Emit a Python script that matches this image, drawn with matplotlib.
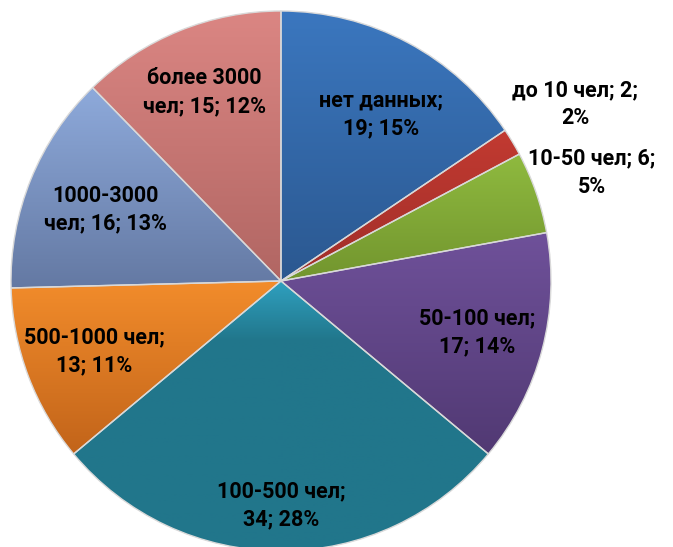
"""Pie chart of groups by headcount, Excel-style gradient slices."""

import numpy as np
import matplotlib
matplotlib.use("Agg")
import matplotlib.pyplot as plt
from matplotlib.colors import LinearSegmentedColormap

plt.rcParams['font.family'] = ['Roboto', 'DejaVu Sans']

# data
CATEGORIES = ["нет данных", "до 10 чел", "10-50 чел", "50-100 чел",
              "100-500 чел", "500-1000 чел", "1000-3000 чел", "более 3000 чел"]
COUNTS = [19, 2, 6, 17, 34, 13, 16, 15]
PERCENTS = [15, 2, 5, 14, 28, 11, 13, 12]
LABELS = ["нет данных;\n19; 15%", "до 10 чел; 2;\n2%", "10-50 чел; 6;\n5%",
          "50-100 чел;\n17; 14%", "100-500 чел;\n34; 28%", "500-1000 чел;\n13; 11%",
          "1000-3000\nчел; 16; 13%", "более 3000\nчел; 15; 12%"]

# top / bottom colour of each slice gradient
TOP_COLORS = ["#3b77bf", "#c23a31", "#8fba3f", "#6f519a", "#2fa0bf",
              "#f28c2b", "#8eaadb", "#db8683"]
BOTTOM_COLORS = ["#2b5890", "#a02e29", "#72952e", "#513973", "#21768b",
                 "#c2641a", "#6479a3", "#b16663"]
# where the gradient reaches the bottom colour (fraction of height from bottom)
GRAD_STOP = [0.0, 0.0, 0.0, 0.0, 0.78, 0.0, 0.0, 0.0]
LABEL_DIST = [0.72, 1.27, 1.22, 0.75, 0.83, 0.74, 0.70, 0.755]
LABEL_TURN = [3, 0, 0, 0, 0, 0, 0, 0]   # degrees clockwise nudge of label

W, H = 673, 547
CENTER = (281, 266)
RADIUS = 270

fig = plt.figure(figsize=(W / 100, H / 100), dpi=100)
ax = fig.add_axes([0, 0, 1, 1])

wedges, _ = ax.pie(COUNTS, colors=BOTTOM_COLORS, startangle=90, counterclock=False,
                   radius=RADIUS, center=CENTER, frame=True,
                   wedgeprops=dict(edgecolor='#d9d9d9', linewidth=1))

grad = np.linspace(0, 1, 256).reshape(-1, 1)
for w, top, bot, stop in zip(wedges, TOP_COLORS, BOTTOM_COLORS, GRAD_STOP):
    bb = w.get_path().get_extents()
    cmap = LinearSegmentedColormap.from_list("g", [(0, bot), (stop, bot), (1, top)])
    im = ax.imshow(grad, cmap=cmap, origin='lower', aspect='auto',
                   extent=(bb.x0, bb.x1, bb.y0, bb.y1), zorder=1)
    im.set_clip_path(w)
    w.set_facecolor('none')
    w.set_zorder(2)

for w, lab, d, turn in zip(wedges, LABELS, LABEL_DIST, LABEL_TURN):
    mid = np.deg2rad((w.theta1 + w.theta2) / 2 - turn)
    x = CENTER[0] + d * RADIUS * np.cos(mid)
    y = CENTER[1] + d * RADIUS * np.sin(mid)
    ax.text(x, y, lab, ha='center', va='center', fontsize=15.5, fontweight='bold',
            color='black', linespacing=1.35, zorder=3)

ax.set_xlim(0, W)
ax.set_ylim(0, H)
ax.set_axis_off()

fig.savefig("out.png", dpi=100)
